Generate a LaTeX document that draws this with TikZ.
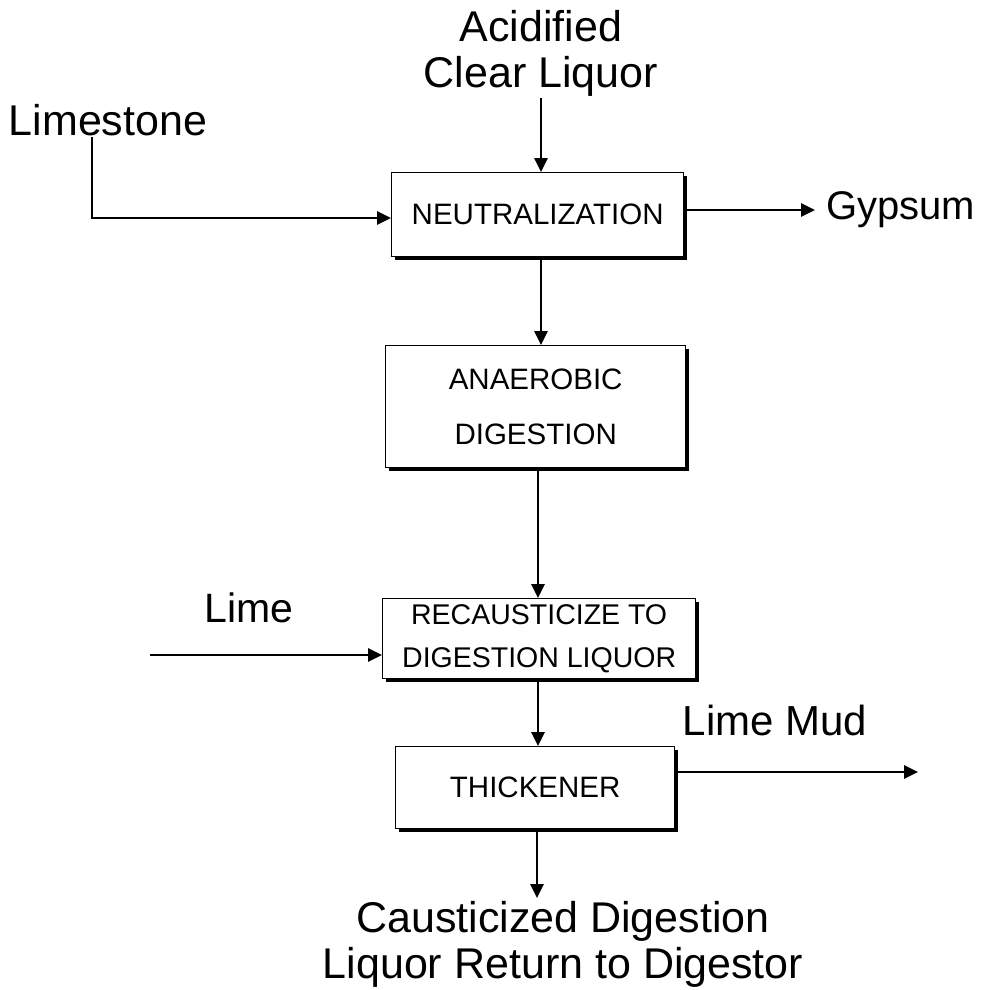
\documentclass[tikz,border=0pt]{standalone}
\usepackage{fontspec}
\setmainfont{Liberation Sans}
\usetikzlibrary{arrows.meta,shadows}
\begin{document}
\begin{tikzpicture}[x=1pt,y=-1pt,
  procbox/.style={draw, line width=1.3pt, fill=white, rectangle, inner sep=0pt, anchor=north west,
    align=center, font=\fontsize{29.5}{43}\selectfont,
    drop shadow={shadow xshift=3.5pt, shadow yshift=-3.5pt, fill=black, opacity=1}},
  lbl/.style={font=\fontsize{43}{46}\selectfont, align=center},
  arr/.style={line width=2.8pt, -{Triangle[length=14pt,width=13pt]}}
]
\useasboundingbox (0,0) rectangle (985,990);
% boxes
\node[procbox, minimum width=292pt, minimum height=84pt] (b1) at (391,172) {NEUTRALIZATION};
\node[procbox, minimum width=300pt, minimum height=122pt, font=\fontsize{29.5}{55}\selectfont] (b2) at (385,345) {ANAEROBIC\\DIGESTION};
\node[procbox, minimum width=313pt, minimum height=80pt, font=\fontsize{28.5}{43}\selectfont] (b3) at (382,598) {RECAUSTICIZE TO\\DIGESTION LIQUOR};
\node[procbox, minimum width=279pt, minimum height=82pt] (b4) at (395,746) {THICKENER};
% labels
\node[lbl, inner sep=2pt] (acid) at (541,53) {Acidified\\Clear Liquor};
\node[lbl] (limestone) at (108,120) {Limestone};
\node[lbl, anchor=west, inner xsep=11pt, font=\fontsize{40}{46}\selectfont] (gyp) at (815,210) {Gypsum};
\node[lbl, font=\fontsize{41}{46}\selectfont] (lime) at (249,608) {Lime};
\node[lbl, font=\fontsize{42}{46}\selectfont] (mud) at (775,720) {Lime Mud};
\node[lbl, anchor=north, inner sep=3pt] (out) at (563,898) {Causticized Digestion\\Liquor Return to Digestor};
% connector endpoints
\coordinate (lsStart) at (92,137);
\coordinate (limeStart) at (150,655);
\coordinate (mudEnd) at (918,772);
% connectors
\draw[arr] (acid.south -| 541,0) -- (b1.north -| 541,0);
\draw[arr] (lsStart) |- (b1.west |- 0,218);
\draw[arr] (b1.east |- gyp) -- (gyp.west);
\draw[arr] (b1.south -| 541,0) -- (b2.north -| 541,0);
\draw[arr] (b2.south -| 538,0) -- (b3.north -| 538,0);
\draw[arr] (limeStart) -- (b3.west |- limeStart);
\draw[arr] (b3.south -| 538,0) -- (b4.north -| 538,0);
\draw[arr] (b4.east |- mudEnd) -- (mudEnd);
\draw[arr] (b4.south -| 537,0) -- (out.north -| 537,0);
\end{tikzpicture}
\end{document}
